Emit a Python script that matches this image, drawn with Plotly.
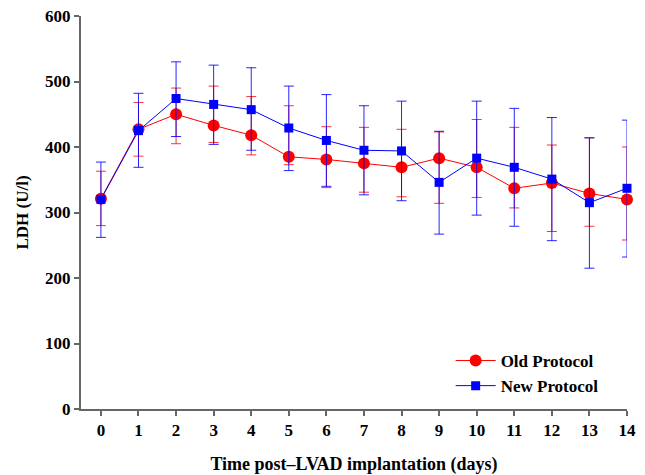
import plotly.graph_objects as go

days = list(range(15))
tick_labels = [str(d) for d in days]
y_ticks = [0, 100, 200, 300, 400, 500, 600]

old_mean = [321, 427, 450, 433, 418, 385, 381, 375, 369, 383, 369, 337, 345, 329, 320]
old_high = [363, 468, 490, 493, 477, 463, 431, 430, 427, 423, 442, 430, 403, 414, 400]
old_low = [280, 386, 405, 407, 388, 373, 338, 331, 324, 314, 323, 307, 271, 279, 258]

new_mean = [320, 425, 474, 465, 457, 429, 410, 395, 394, 346, 383, 369, 351, 315, 337]
new_high = [377, 482, 530, 525, 521, 493, 480, 463, 470, 424, 470, 459, 445, 414, 441]
new_low = [262, 369, 416, 404, 395, 364, 340, 327, 318, 267, 296, 279, 257, 215, 232]

font_family = "Liberation Serif"

def errs(mean, high, low):
    plus = [h - m for h, m in zip(high, mean)]
    minus = [m - l for m, l in zip(mean, low)]
    return plus, minus

op, om = errs(old_mean, old_high, old_low)
np_, nm = errs(new_mean, new_high, new_low)

fig = go.Figure()
fig.add_trace(go.Scatter(
    x=days, y=old_mean, name="Old Protocol", mode="lines+markers",
    line=dict(color="#ff0000", width=1),
    marker=dict(symbol="circle", size=12, color="#ff0000"),
    error_y=dict(type="data", symmetric=False, array=op, arrayminus=om,
                 color="rgba(255,0,0,0.8)", thickness=1, width=5),
    cliponaxis=False,
))
fig.add_trace(go.Scatter(
    x=days, y=new_mean, name="New Protocol", mode="lines+markers",
    line=dict(color="#0000ff", width=1),
    marker=dict(symbol="square", size=9, color="#0000ff"),
    error_y=dict(type="data", symmetric=False, array=np_, arrayminus=nm,
                 color="rgba(0,0,255,0.85)", thickness=1, width=5),
    cliponaxis=False,
))

bold = dict(family=font_family, size=17, color="black", weight="bold")

fig.update_layout(
    width=645, height=475,
    margin=dict(l=81, r=18, t=16, b=66),
    paper_bgcolor="white", plot_bgcolor="white",
    font=dict(family=font_family, size=16, color="black"),
    showlegend=True,
    legend=dict(x=0.677, y=0.168, xanchor="left", yanchor="top",
                bgcolor="rgba(0,0,0,0)",
                font=dict(family=font_family, size=17, color="black", weight="bold"),
                tracegroupgap=0, itemwidth=40),
    xaxis=dict(
        range=[-0.53, 14.0], tickmode="array", tickvals=days, ticktext=tick_labels,
        showgrid=False, zeroline=False, showline=True, linecolor="#666666", linewidth=2,
        ticks="outside", ticklen=5, tickwidth=2, tickcolor="#666666",
        tickfont=bold, automargin=False,
        title=dict(text="Time post\u2013LVAD implantation (days)", standoff=20,
                   font=dict(family=font_family, size=18, color="black", weight="bold")),
    ),
    yaxis=dict(
        range=[0, 600], tickmode="array", tickvals=y_ticks,
        showgrid=False, zeroline=False, showline=True, linecolor="#666666", linewidth=2,
        ticks="outside", ticklen=5, tickwidth=2, tickcolor="#666666",
        tickfont=bold, automargin=False,
        title=dict(text="LDH (U/l)", standoff=12,
                   font=dict(family=font_family, size=17, color="black", weight="bold")),
    ),
)

# remove the page's default body margin so the figure fills the window exactly
fig.write_html("out.html", config={"displayModeBar": False},
               post_script="document.body.style.margin='0';document.body.style.overflow='hidden';")
